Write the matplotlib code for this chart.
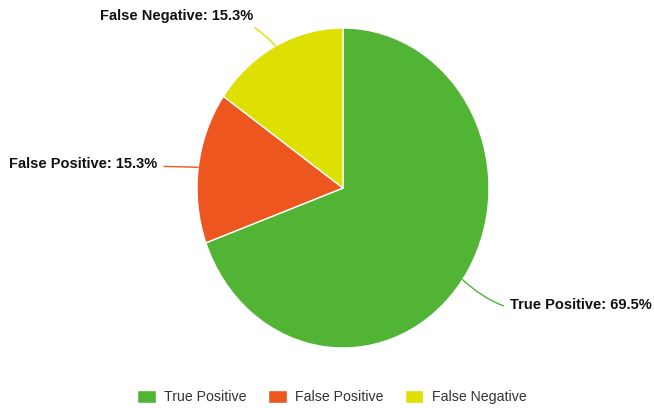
import numpy as np
import matplotlib
matplotlib.use('Agg')
import matplotlib.pyplot as plt

plt.rcParams['font.family'] = ['Liberation Sans', 'DejaVu Sans']

# 분류 결과 비율
labels = ['True Positive', 'False Positive', 'False Negative']
values = [69.5, 15.3, 15.3]
colors = ['#52b435', '#ee561f', '#dde000']

# 라벨 위치 (데이터 좌표) 와 연결선 곡률
label_pos = [(1.144, -0.731, 'left'), (-1.274, 0.147, 'right'), (-0.616, 1.078, 'right')]
label_rad = [-0.3, 0.0, -0.3]

fig = plt.figure(figsize=(6.54, 4.08), dpi=100)
ax = fig.add_axes([197/654, 60/408, 292/654, 320/408])

wedges, _ = ax.pie(values, colors=colors, startangle=90, counterclock=False,
                   wedgeprops=dict(edgecolor='white', linewidth=1))
ax.set_aspect('auto')
ax.set_xlim(-1, 1)
ax.set_ylim(-1, 1)

for w, lab, v, pos, rad in zip(wedges, labels, values, label_pos, label_rad):
    ang = np.deg2rad((w.theta1 + w.theta2) / 2)
    ax.annotate(f'{lab}: {v}%', xy=(np.cos(ang), np.sin(ang)), xytext=(pos[0], pos[1]),
                ha=pos[2], va='center', fontsize=10.5, fontweight='bold', color='#111111',
                annotation_clip=False,
                arrowprops=dict(arrowstyle='-', color=w.get_facecolor(), lw=1,
                                shrinkA=3, shrinkB=0,
                                connectionstyle=f'arc3,rad={rad}'))

fig.legend(wedges, labels, loc='center', bbox_to_anchor=(332/654, 1 - 397/408), ncol=3,
           frameon=False, fontsize=10.2, handlelength=1.3, handleheight=1.1,
           handletextpad=0.6, columnspacing=1.5, labelcolor='#333333')

fig.savefig('out.png', dpi=100)
